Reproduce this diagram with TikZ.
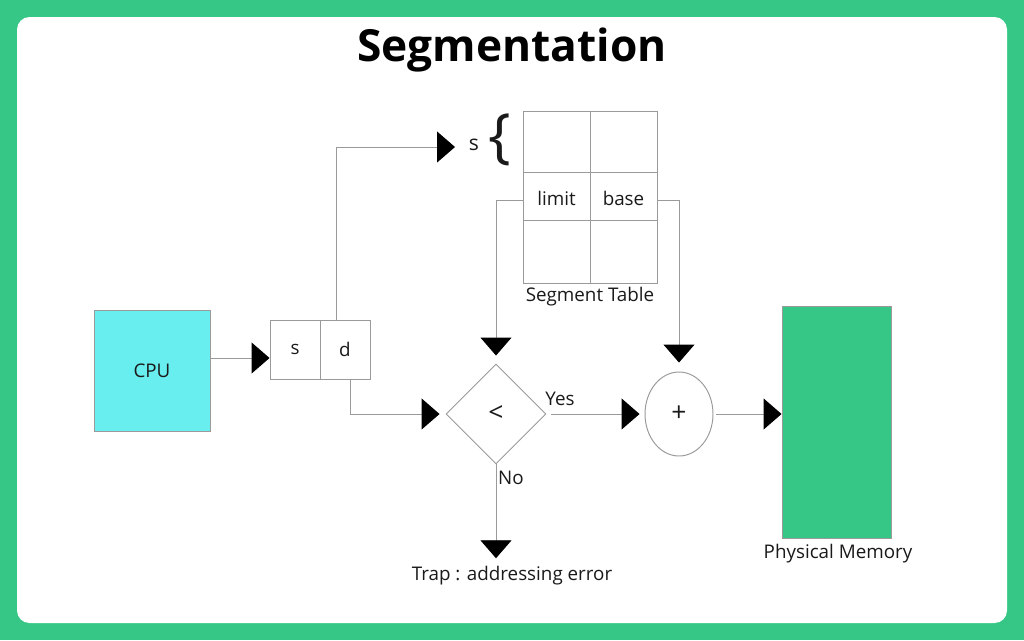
\documentclass[tikz,border=0pt]{standalone}
\usepackage{fontspec}
\setmainfont{Open Sans}
\usetikzlibrary{arrows.meta,shapes.geometric,positioning}
\definecolor{bggreen}{HTML}{36C787}
\definecolor{cpucyan}{HTML}{69EEF0}
\definecolor{linegray}{HTML}{9A9A9A}
\definecolor{ink}{HTML}{1A1A1A}

\begin{document}
\begin{tikzpicture}[x=0.02cm,y=-0.02cm,
    every node/.style={font=\fontsize{10.7}{12}\selectfont, text=ink, inner sep=0pt},
    cell/.style={draw=linegray, line width=0.55pt},
    link/.style={draw=linegray, line width=0.55pt},
    tip/.style={-{Triangle[length=0.36cm,width=0.62cm,color=black]}}]
  % background and frame
  \fill[bggreen] (0,0) rectangle (1024,640);
  \fill[white, rounded corners=0.25cm] (17,17) rectangle (1007,623);
  \node[font=\bfseries\fontsize{25.2}{28}\selectfont, text=black] (title) at (512,50) {Segmentation};

  % cpu and logical address
  \node[cell, fill=cpucyan, minimum width=2.32cm, minimum height=2.42cm] (cpu) at (152,370.5) {CPU};
  \node[cell, minimum width=1cm, minimum height=1.18cm] (s) at (295,349.5) {s};
  \node[cell, minimum width=1cm, minimum height=1.18cm] (d) at (345,349.5) {d};

  % segment table
  \node[cell, minimum width=1.34cm, minimum height=1.22cm] (t11) at (556.5,141.5) {};
  \node[cell, minimum width=1.34cm, minimum height=1.22cm] (t12) at (623.5,141.5) {};
  \node[cell, minimum width=1.34cm, minimum height=0.96cm, text height=0.36cm, text depth=0cm] (limit) at (556.5,196) {limit};
  \node[cell, minimum width=1.34cm, minimum height=0.96cm, text height=0.36cm, text depth=0cm] (base) at (623.5,196) {base};
  \node[cell, minimum width=1.34cm, minimum height=1.26cm] (t31) at (556.5,251.5) {};
  \node[cell, minimum width=1.34cm, minimum height=1.26cm] (t32) at (623.5,251.5) {};
  \node (tablelabel) at (590,297) {Segment Table};
  \node[font=\fontsize{12}{12}\selectfont] (sidx) at (474,145) {s};
  \node[font=\fontsize{34}{34}\selectfont] (brace) at (500,140) {\{};
  \coordinate (sin) at (455,147);

  % compare, add, memory
  \node[cell, diamond, aspect=1, minimum width=2cm, minimum height=2cm,
        font=\fontsize{15}{15}\selectfont] (cmp) at (496,414) {<};
  \node[cell, ellipse, minimum width=1.36cm, minimum height=1.68cm,
        font=\fontsize{15}{15}\selectfont] (add) at (679,414) {+};
  \node[cell, fill=bggreen, minimum width=2.18cm, minimum height=4.64cm] (mem) at (836.5,422) {};
  \node (memlabel) at (838,554) {Physical Memory};
  \node (trap) at (512,576) {Trap : addressing error};
  \node (yes) at (560,399) {Yes};
  \node (no) at (511,478) {No};

  % connectors
  \draw[link,tip] ([yshift=0.25cm]cpu.east) -- ([yshift=0.25cm]cpu.east -| s.west);
  \draw[link,tip] ([xshift=-0.18cm]d.north) |- (sin);
  \draw[link,tip] ([xshift=0.1cm]d.south) |- ([xshift=-0.12cm]cmp.west);
  \draw[link,tip] ([yshift=-0.08cm]limit.west) -| ([yshift=0.16cm]cmp.north);
  \draw[link,tip] ([yshift=-0.08cm]base.east) -| ([yshift=0.18cm]add.north);
  \draw[link,tip] ([xshift=0.1cm]cmp.east) -- ([xshift=-0.1cm]add.west);
  \draw[link,tip] ([xshift=0.06cm]add.east) -- (add.east -| mem.west);
  \draw[link,tip] (cmp.south) -- ([yshift=0.16cm]cmp.south |- trap.north);
\end{tikzpicture}
\end{document}
